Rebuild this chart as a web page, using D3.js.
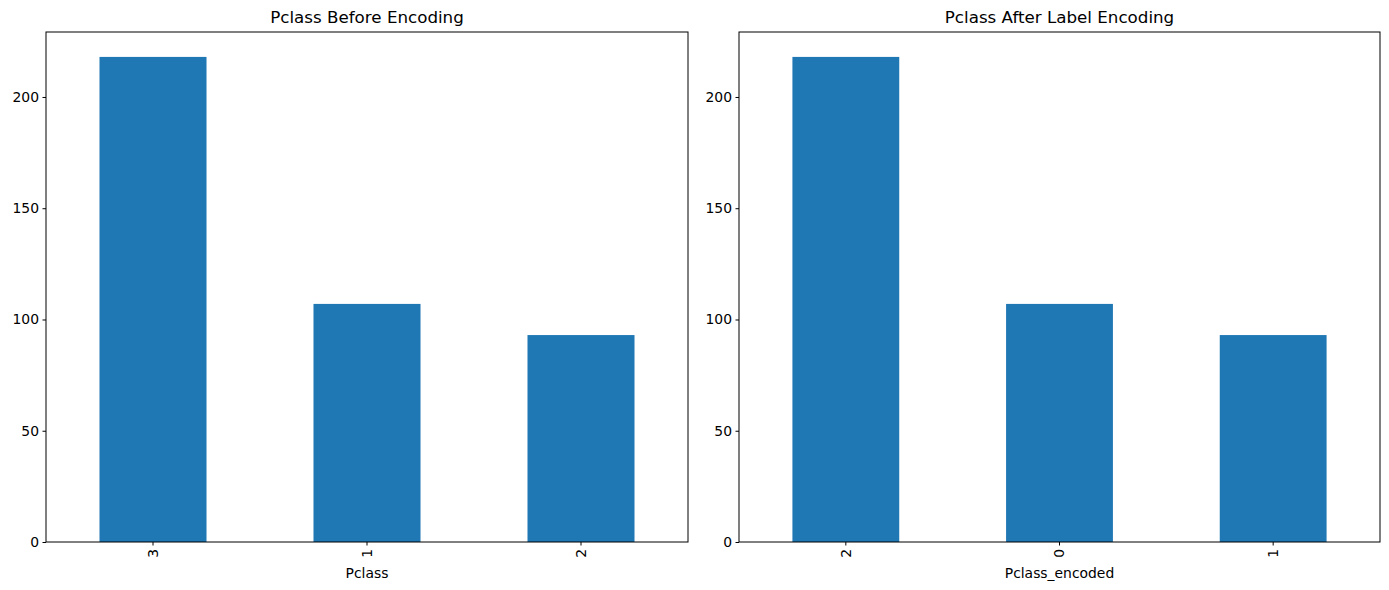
<!DOCTYPE html>
<html>
<head>
<style>
  body { margin:0; background:white; }
  text { font-family: "DejaVu Sans", sans-serif; }
</style>
</head>
<body>
<svg id="chart" width="1389" height="590"></svg>
<script src="https://d3js.org/d3.v7.min.js"></script>
<script>
// data
var leftCats = ['3', '1', '2'];
var rightCats = ['2', '0', '1'];
var counts = [218, 107, 93];
var yTicks = [0, 50, 100, 150, 200];

var svg = d3.select('#chart');
var plotTop = 32, plotBottom = 542;

function panel(x0, x1, cats, title, xlabel) {
    var x = d3.scaleBand().domain(cats).range([x0, x1])
        .paddingInner(0.5).paddingOuter(0.25);
    var y = d3.scaleLinear().domain([0, 229.2]).range([plotBottom, plotTop]);
    var g = svg.append('g');

    g.selectAll('rect').data(cats).enter().append('rect')
        .attr('x', function(d) { return x(d); })
        .attr('width', x.bandwidth())
        .attr('y', function(d, i) { return y(counts[i]); })
        .attr('height', function(d, i) { return plotBottom - y(counts[i]); })
        .attr('fill', '#1f77b4');

    var ya = g.append('g').attr('transform', 'translate(' + x0 + ',0)')
        .call(d3.axisLeft(y).tickValues(yTicks).tickSize(3.5).tickPadding(3.5));
    var xa = g.append('g').attr('transform', 'translate(0,' + plotBottom + ')')
        .call(d3.axisBottom(x).tickSize(3.5).tickPadding(3.5));
    xa.selectAll('text')
        .attr('transform', 'rotate(-90)')
        .attr('text-anchor', 'end')
        .attr('dy', '0.35em')
        .attr('x', -7).attr('y', 0);
    [ya, xa].forEach(function(a) {
        a.select('.domain').remove();
        a.selectAll('text').style('font-size', '13.9px').attr('fill', '#000');
        a.selectAll('line').attr('stroke', '#000');
    });

    g.append('rect').attr('x', x0).attr('y', plotTop)
        .attr('width', x1 - x0).attr('height', plotBottom - plotTop)
        .attr('fill', 'none').attr('stroke', '#000').attr('stroke-width', 1);

    g.append('text').attr('x', (x0 + x1) / 2).attr('y', plotTop - 9)
        .attr('text-anchor', 'middle').style('font-size', '16.7px').text(title);
    g.append('text').attr('x', (x0 + x1) / 2).attr('y', 578)
        .attr('text-anchor', 'middle').style('font-size', '13.9px').text(xlabel);
}

panel(46, 688, leftCats, 'Pclass Before Encoding', 'Pclass');
panel(739, 1380, rightCats, 'Pclass After Label Encoding', 'Pclass_encoded');
</script>
</body>
</html>
